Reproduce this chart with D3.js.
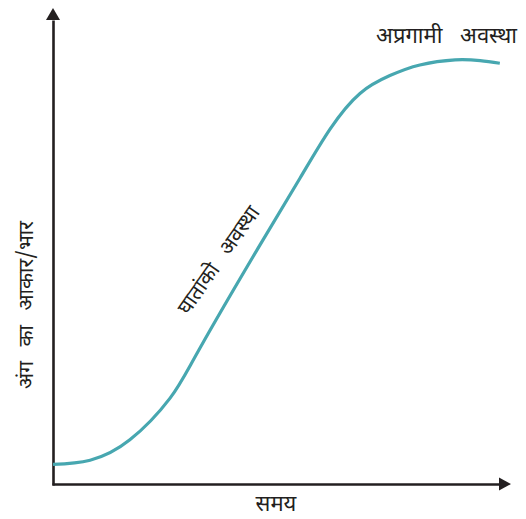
<!DOCTYPE html>
<html>
<head>
<meta charset="utf-8">
<script src="https://cdn.jsdelivr.net/npm/d3@7"></script>
<style>
  html, body { margin: 0; padding: 0; background: #fff; }
  svg { display: block; }
  text { font-family: "Noto Sans Devanagari", "Lohit Devanagari", "Noto Sans", sans-serif; fill: #231f20; }
</style>
</head>
<body>
<svg id="chart" width="526" height="519"></svg>
<script>
// Data (arbitrary units: time vs organ size)
const time = [0, 8.3, 17.2, 26.2, 32.9, 46.3, 55.3, 62.0, 68.7, 75.4, 82.1, 90.0, 95.6, 100];
const size = [4.6, 5.6, 10.4, 20.2, 32.0, 56.2, 72.0, 83.5, 91.9, 96.1, 98.6, 99.8, 99.6, 99.0];
const xLabel = "समय";
const yLabel = "अंग का आकार/भार";
const phaseLabels = ["घातांको अवस्था", "अप्रगामी अवस्था"];

const svg = d3.select("#chart");
const x = d3.scaleLinear().domain([0, 102.5]).range([53, 511]);
const y = d3.scaleLinear().domain([0, 112]).range([484, 8]);

const axisColor = "#231f20";
const arrowLen = 12;

// x axis (no ticks)
const xAxisG = svg.append("g").attr("transform", `translate(0,${y(0)})`)
  .call(d3.axisBottom(d3.scaleLinear().domain([0, 1]).range([x(0) - 1, x(102.5) - arrowLen])).ticks(0).tickSizeOuter(0));
xAxisG.select(".domain").attr("stroke", axisColor).attr("stroke-width", 2.6);

// y axis (no ticks)
const yAxisG = svg.append("g").attr("transform", `translate(${x(0)},0)`)
  .call(d3.axisLeft(d3.scaleLinear().domain([0, 1]).range([y(0) + 1, y(112) + arrowLen])).ticks(0).tickSizeOuter(0));
yAxisG.select(".domain").attr("stroke", axisColor).attr("stroke-width", 2.6);

// arrowheads
const tipX = [x(102.5), y(0)];
svg.append("path")
  .attr("d", `M${tipX[0]},${tipX[1]}L${tipX[0] - arrowLen},${tipX[1] - 6.5}L${tipX[0] - arrowLen},${tipX[1] + 6.5}Z`)
  .attr("fill", axisColor);
const tipY = [x(0), y(112)];
svg.append("path")
  .attr("d", `M${tipY[0]},${tipY[1]}L${tipY[0] - 7},${tipY[1] + arrowLen}L${tipY[0] + 7},${tipY[1] + arrowLen}Z`)
  .attr("fill", axisColor);

// growth curve
const pts = time.map((t, i) => [t, size[i]]);
svg.append("path")
  .datum(pts)
  .attr("fill", "none")
  .attr("stroke", "#47a7b0")
  .attr("stroke-width", 3.2)
  .attr("d", d3.line().x(d => x(d[0])).y(d => y(d[1])).curve(d3.curveNatural));

// labels
svg.append("text")
  .attr("x", 276).attr("y", 511)
  .attr("text-anchor", "middle")
  .attr("font-size", 22)
  .text(xLabel);

svg.append("text")
  .attr("transform", `translate(33,305) rotate(-90)`)
  .attr("text-anchor", "middle")
  .attr("font-size", 21)
  .attr("word-spacing", 9)
  .text(yLabel);

svg.append("text")
  .attr("transform", `translate(188,316) rotate(-55)`)
  .attr("text-anchor", "start")
  .attr("font-size", 21)
  .attr("word-spacing", 10)
  .text(phaseLabels[0]);

svg.append("text")
  .attr("x", 517).attr("y", 43)
  .attr("text-anchor", "end")
  .attr("font-size", 22)
  .attr("word-spacing", 12)
  .text(phaseLabels[1]);
</script>
</body>
</html>
